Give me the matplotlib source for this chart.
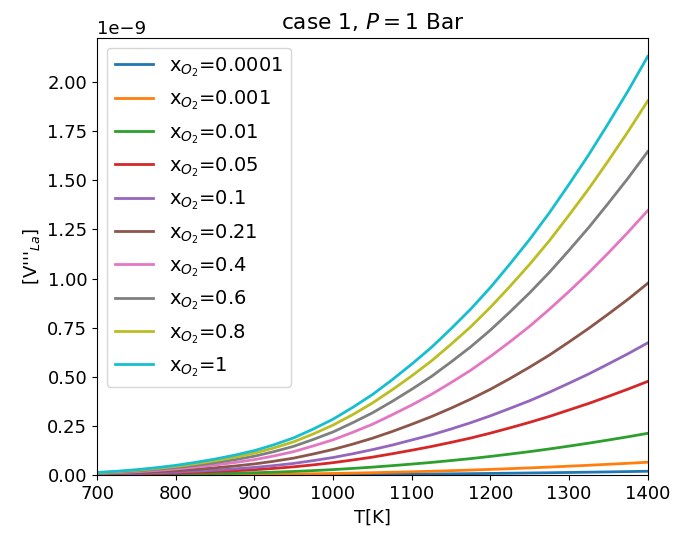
import matplotlib
matplotlib.use('Agg')
import matplotlib.pyplot as plt
import numpy as np

plt.rcParams['font.size'] = 13

# temperature grid
T = [700, 725, 750, 775, 800, 825, 850, 875, 900, 925, 950, 975, 1000, 1025, 1050,
     1075, 1100, 1125, 1150, 1175, 1200, 1225, 1250, 1275, 1300, 1325, 1350, 1375, 1400]

# oxygen mole fractions (legend)
x_o2 = ['0.0001', '0.001', '0.01', '0.05', '0.1', '0.21', '0.4', '0.6', '0.8', '1']

# [V'''_La] in units of 1e-9
v_00001 = [0.00013, 0.00019, 0.00026, 0.00036, 0.00047, 0.00061, 0.00077, 0.00096, 0.0012, 0.0015,
           0.0018, 0.0022, 0.0027, 0.0032, 0.0039, 0.0046, 0.0053, 0.0061, 0.007, 0.0079,
           0.009, 0.0101, 0.0113, 0.0125, 0.0139, 0.0153, 0.0168, 0.0184, 0.020]
v_0001 = [0.00043, 0.00062, 0.00087, 0.0012, 0.00155, 0.002, 0.0025, 0.0032, 0.0039, 0.0048,
          0.0059, 0.0073, 0.0088, 0.0107, 0.0127, 0.015, 0.0175, 0.020, 0.0231, 0.0262,
          0.0296, 0.0333, 0.0372, 0.0414, 0.0459, 0.0505, 0.0555, 0.0606, 0.066]
v_001 = [0.0014, 0.002, 0.0028, 0.0038, 0.005, 0.0065, 0.0082, 0.0102, 0.0125, 0.0155,
         0.019, 0.0235, 0.0285, 0.0345, 0.041, 0.0485, 0.0565, 0.065, 0.0745, 0.0845,
         0.0955, 0.1075, 0.120, 0.1335, 0.148, 0.163, 0.179, 0.1955, 0.213]
v_005 = [0.0031, 0.0045, 0.0063, 0.0085, 0.0112, 0.0146, 0.0184, 0.0228, 0.028, 0.0347,
         0.0426, 0.0526, 0.0638, 0.0773, 0.0918, 0.109, 0.127, 0.146, 0.167, 0.189,
         0.214, 0.241, 0.269, 0.299, 0.332, 0.365, 0.401, 0.438, 0.477]
v_01 = [0.0044, 0.0063, 0.0088, 0.012, 0.0158, 0.0205, 0.0259, 0.0322, 0.0395, 0.049,
        0.060, 0.0743, 0.090, 0.109, 0.130, 0.153, 0.179, 0.205, 0.235, 0.267,
        0.302, 0.340, 0.379, 0.422, 0.468, 0.515, 0.566, 0.618, 0.673]
v_021 = [0.0064, 0.0092, 0.0128, 0.0174, 0.0229, 0.0298, 0.0376, 0.0467, 0.0573, 0.071,
         0.087, 0.108, 0.131, 0.158, 0.188, 0.222, 0.259, 0.298, 0.341, 0.387,
         0.437, 0.492, 0.550, 0.611, 0.678, 0.747, 0.820, 0.895, 0.976]
v_04 = [0.00885, 0.0126, 0.0177, 0.024, 0.0316, 0.0411, 0.0518, 0.0645, 0.079, 0.098,
        0.120, 0.149, 0.180, 0.218, 0.259, 0.307, 0.357, 0.411, 0.471, 0.534,
        0.604, 0.679, 0.758, 0.844, 0.935, 1.030, 1.131, 1.236, 1.346]
v_06 = [0.0108, 0.0155, 0.0216, 0.0294, 0.0387, 0.0502, 0.0634, 0.0788, 0.0966, 0.120,
        0.147, 0.182, 0.220, 0.267, 0.317, 0.375, 0.437, 0.502, 0.576, 0.653,
        0.738, 0.831, 0.928, 1.032, 1.144, 1.260, 1.384, 1.511, 1.646]
v_08 = [0.0125, 0.0179, 0.025, 0.034, 0.0447, 0.0581, 0.0733, 0.0912, 0.112, 0.139,
        0.170, 0.210, 0.255, 0.308, 0.367, 0.434, 0.505, 0.581, 0.666, 0.755,
        0.854, 0.961, 1.073, 1.193, 1.323, 1.457, 1.600, 1.748, 1.904]
v_1 = [0.014, 0.020, 0.028, 0.038, 0.050, 0.065, 0.082, 0.102, 0.125, 0.155,
       0.190, 0.235, 0.285, 0.345, 0.410, 0.485, 0.565, 0.650, 0.745, 0.845,
       0.955, 1.075, 1.200, 1.335, 1.480, 1.630, 1.790, 1.955, 2.130]

series = [v_00001, v_0001, v_001, v_005, v_01, v_021, v_04, v_06, v_08, v_1]

fig = plt.figure(figsize=(6.74, 5.4), dpi=100)
ax = fig.add_subplot(111)
fig.subplots_adjust(left=0.144, right=0.961, top=0.930, bottom=0.120)

for lab, v in zip(x_o2, series):
    ax.plot(T, np.array(v) * 1e-9, lw=2, label=r'x$_{O_2}$=' + lab)

ax.set_xlim(700, 1400)
ax.set_ylim(0, 2.225e-9)
ax.set_yticks(np.arange(0, 2.01e-9, 0.25e-9))
ax.set_xlabel('T[K]')
ax.set_ylabel(r"[V'''$_{La}$]")
ax.set_title(r'case 1, $P = 1$ Bar')
ax.legend(loc='upper left', fontsize=14)

fig.savefig('out.png', dpi=100)
